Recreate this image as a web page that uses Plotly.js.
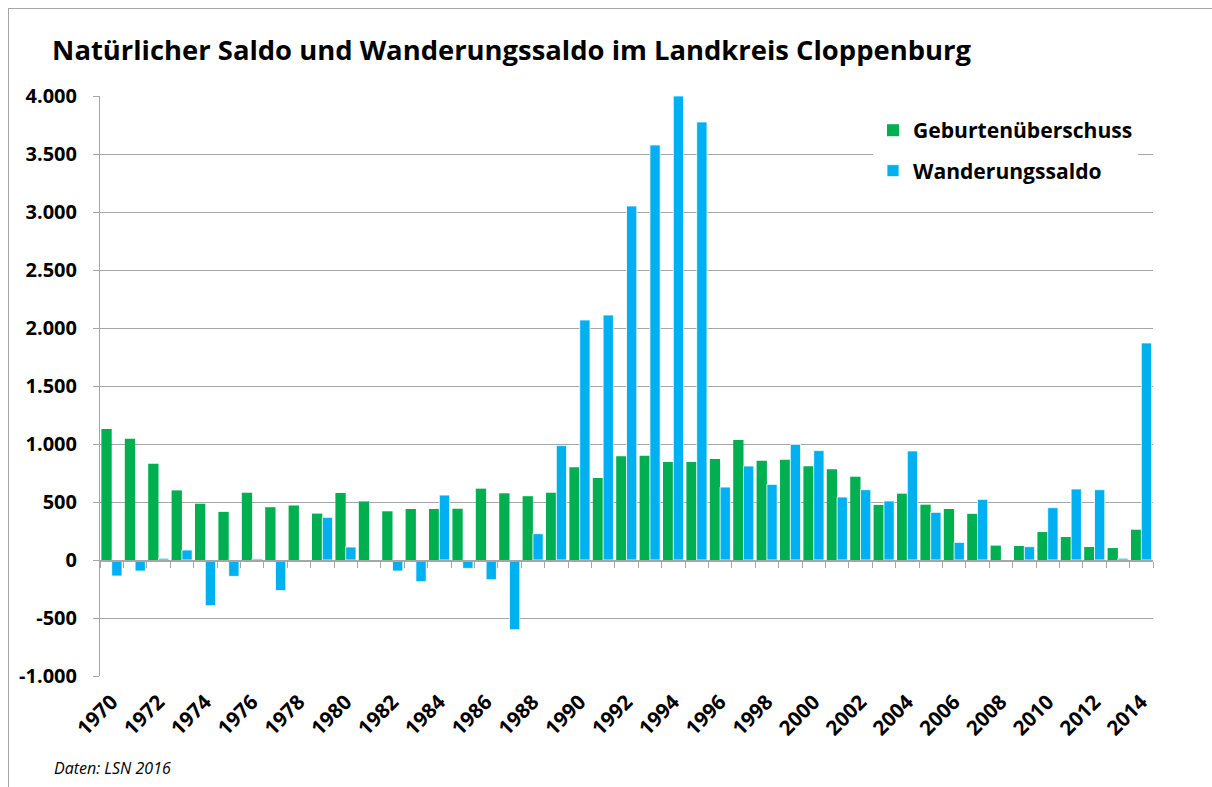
<!DOCTYPE html>
<html>
<head>
<meta charset="utf-8">
<script src="https://cdn.plot.ly/plotly-3.0.1.min.js"></script>
<style>
  html, body { margin: 0; padding: 0; background: #fff; }
  #chart { position: absolute; left: 0; top: 0; width: 1212px; height: 787px; }
  #frame { position: absolute; left: 8px; top: 8px; width: 1204px; height: 779px;
           border-left: 1px solid #a6a6a6; border-top: 1px solid #a6a6a6; pointer-events: none; }
</style>
</head>
<body>
<div id="chart"></div>
<div id="frame"></div>
<script>
const years = [1970,1971,1972,1973,1974,1975,1976,1977,1978,1979,
               1980,1981,1982,1983,1984,1985,1986,1987,1988,1989,
               1990,1991,1992,1993,1994,1995,1996,1997,1998,1999,
               2000,2001,2002,2003,2004,2005,2006,2007,2008,2009,
               2010,2011,2012,2013,2014];
const geburtenueberschuss = [1130,1045,830,600,485,415,580,455,470,400,
                             578,505,420,440,440,442,615,575,550,580,
                             800,707,895,898,845,845,870,1035,855,865,
                             808,782,718,475,572,477,440,398,124,121,
                             241,198,112,103,261];
const wanderungssaldo = [-138,-95,15,86,-394,-141,10,-264,0,368,
                         112,0,-95,-187,560,-72,-170,-601,227,986,
                         2069,2112,3052,3578,4000,3776,629,810,652,997,
                         943,543,606,509,940,411,152,523,0,115,
                         451,612,606,15,1871];
const xTickYears = [1970,1972,1974,1976,1978,1980,1982,1984,1986,1988,1990,1992,
                    1994,1996,1998,2000,2002,2004,2006,2008,2010,2012,2014];
const yTicks = [-1000,-500,0,500,1000,1500,2000,2500,3000,3500,4000];
const yTickLabels = ['-1.000','-500','0','500','1.000','1.500','2.000','2.500','3.000','3.500','4.000'];
const seriesNames = ['Geburtenüberschuss','Wanderungssaldo'];
const titleText = 'Natürlicher Saldo und Wanderungssaldo im Landkreis Cloppenburg';
const sourceText = 'Daten: LSN 2016';

const FONT = '"Open Sans", Lato, sans-serif';
const GRID = '#a6a6a6';

const traces = [
  { type: 'bar', x: years, y: geburtenueberschuss, name: seriesNames[0],
    marker: { color: '#00B050', line: { width: 0 } }, legendgroup: 'a' },
  { type: 'bar', x: years, y: wanderungssaldo, name: seriesNames[1],
    marker: { color: '#00B0F0', line: { color: '#ffffff', width: 0.8 } }, legendgroup: 'b' },
  { type: 'scatter', x: [years[0], years[years.length-1]], y: [0, 0], xaxis: 'x2',
    mode: 'lines', line: { width: 0, color: 'rgba(0,0,0,0)' }, showlegend: false, hoverinfo: 'skip' }
];

const layout = {
  width: 1212, height: 787,
  margin: { l: 100, r: 59, t: 96, b: 111 },
  paper_bgcolor: '#ffffff', plot_bgcolor: '#ffffff',
  barmode: 'group', bargap: 0.12, bargroupgap: 0,
  font: { family: FONT, color: '#000', size: 19, weight: 700 },
  title: { text: titleText, xref: 'container', yref: 'container', x: 0.043, xanchor: 'left',
           y: 1 - 50/787, yanchor: 'middle', font: { family: FONT, size: 27.4, weight: 700, color: '#000' } },
  xaxis: { type: 'linear', range: [1969.5, 2014.5], tickmode: 'array', tickvals: xTickYears,
           tickangle: -45, ticks: '', showgrid: false, zeroline: false, showline: false,
           tickfont: { family: FONT, size: 20.5, weight: 700 }, ticklabelstandoff: 9 },
  xaxis2: { type: 'linear', range: [1969.5, 2014.5], overlaying: 'x', anchor: 'free', position: 0.2,
            tick0: 1969.5, dtick: 1, ticks: 'outside', ticklen: 6, tickwidth: 1, tickcolor: GRID,
            showticklabels: false, showgrid: false, zeroline: false,
            showline: true, linecolor: GRID, linewidth: 1.5 },
  yaxis: { range: [-1000, 4000], tickmode: 'array', tickvals: yTicks, ticktext: yTickLabels,
           showgrid: true, gridcolor: GRID, gridwidth: 1, zeroline: false,
           showline: true, linecolor: GRID, linewidth: 1,
           ticks: 'outside', ticklen: 6, tickcolor: GRID, ticklabelstandoff: 12,
           tickfont: { family: FONT, size: 20, weight: 700 } },
  showlegend: true,
  legend: { x: (873-100)/1053, xanchor: 'left', y: 1 - (110-96)/580, yanchor: 'top',
            bgcolor: '#ffffff', borderwidth: 0, traceorder: 'grouped', tracegroupgap: 10,
            font: { family: FONT, size: 21.1, weight: 700, color: '#000' } },
  annotations: [
    { text: sourceText, xref: 'paper', yref: 'paper', x: (52-100)/1053, y: (676-768)/580,
      xanchor: 'left', yanchor: 'middle', showarrow: false,
      font: { family: FONT, size: 16, style: 'italic', weight: 400, color: '#000' } }
  ]
};

Plotly.newPlot('chart', traces, layout, { displayModeBar: false, staticPlot: true });
</script>
</body>
</html>
